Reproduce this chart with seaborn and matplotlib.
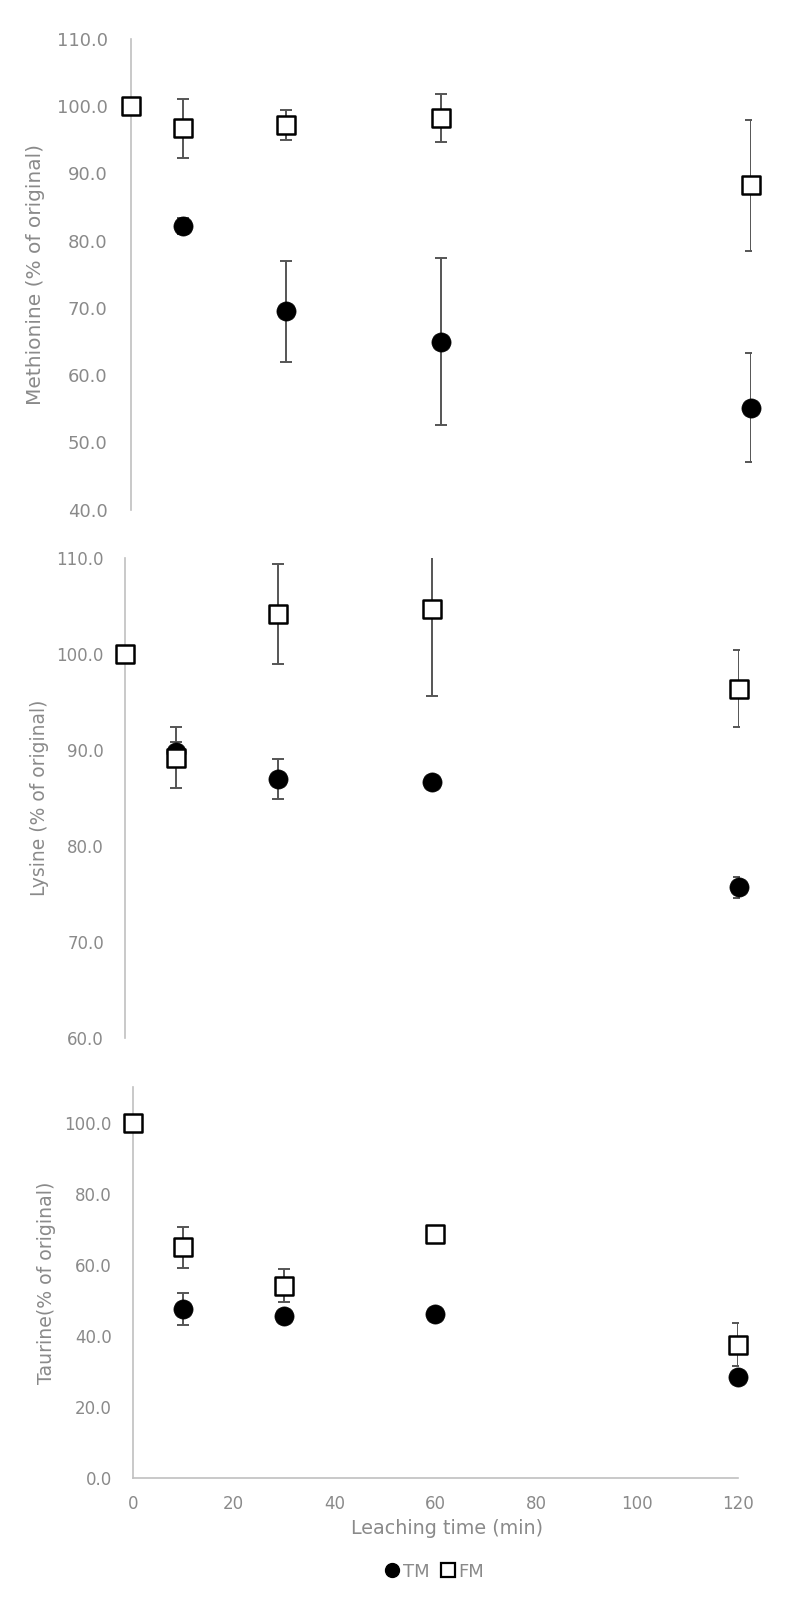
import numpy as np
import pandas as pd
import matplotlib
matplotlib.use("Agg")
import matplotlib.pyplot as plt
from matplotlib.ticker import FormatStrFormatter, MultipleLocator
from matplotlib.lines import Line2D
import seaborn as sns

sns.set_theme(style="white")
plt.rcParams['font.family'] = ['DejaVu Sans']

# ---- data ----
time_fm = [0, 10, 30, 60, 120]
time_tm = [10, 30, 60, 120]

met_fm = [100.0, 96.7, 97.2, 98.2, 88.2]
met_fm_err = [0.0, 4.4, 2.2, 3.6, 9.7]
met_tm = [82.2, 69.5, 65.0, 55.2]
met_tm_err = [1.2, 7.5, 12.4, 8.1]

lys_fm = [100.0, 89.2, 104.2, 104.7, 96.4]
lys_fm_err = [0.0, 3.2, 5.2, 9.1, 4.0]
lys_tm = [89.8, 87.0, 86.7, 75.7]
lys_tm_err = [1.0, 2.1, 0.5, 1.1]

tau_fm = [100.0, 64.9, 54.1, 68.7, 37.5]
tau_fm_err = [0.0, 5.8, 4.6, 0.5, 6.0]
tau_tm = [47.5, 45.6, 46.0, 28.5]
tau_tm_err = [4.4, 1.0, 1.0, 1.0]

ylabels = ["Methionine (% of original)", "Lysine (% of original)", "Taurine(% of original)"]
xticks = [0, 20, 40, 60, 80, 100, 120]
xlabel = "Leaching time (min)"
series_names = ["TM", "FM"]

GRAY_TXT = "#8a8a8a"
GRAY_AX = "#c0c0c0"
ERR_COL = "#555555"

fig = plt.figure(figsize=(7.9, 15.98), dpi=100)

panels = [
    dict(rect=[0.166, 0.681, 0.785, 0.2947], ylim=(40, 110), ystep=10,
         fm=met_fm, fme=met_fm_err, tm=met_tm, tme=met_tm_err,
         label=ylabels[0], lx=-0.139, tfs=13, lfs=14.5, pad=17),
    dict(rect=[0.158, 0.3504, 0.778, 0.3004], ylim=(60, 110), ystep=10,
         fm=lys_fm, fme=lys_fm_err, tm=lys_tm, tme=lys_tm_err,
         label=ylabels[1], lx=-0.124, tfs=12, lfs=13.5, pad=15),
    dict(rect=[0.168, 0.0751, 0.766, 0.2447], ylim=(0, 110), ystep=20,
         fm=tau_fm, fme=tau_fm_err, tm=tau_tm, tme=tau_tm_err,
         label=ylabels[2], lx=-0.126, tfs=12, lfs=13.6, pad=15),
]

axes = []
for i, p in enumerate(panels):
    ax = fig.add_axes(p["rect"])
    axes.append(ax)
    df_tm = pd.DataFrame({"t": time_tm, "v": p["tm"], "e": p["tme"]})
    df_fm = pd.DataFrame({"t": time_fm, "v": p["fm"], "e": p["fme"]})
    ax.errorbar(df_tm["t"], df_tm["v"], yerr=df_tm["e"], fmt="none",
                ecolor=ERR_COL, elinewidth=1.4, capsize=4.5, capthick=1.4, zorder=2)
    ax.errorbar(df_fm["t"], df_fm["v"], yerr=df_fm["e"], fmt="none",
                ecolor=ERR_COL, elinewidth=1.4, capsize=4.5, capthick=1.4, zorder=2)
    sns.scatterplot(data=df_tm, x="t", y="v", ax=ax, marker="o", s=190,
                    color="black", edgecolor="black", linewidth=0.5,
                    zorder=3, clip_on=False, legend=False)
    sns.scatterplot(data=df_fm, x="t", y="v", ax=ax, marker="s", s=150,
                    color="white", edgecolor="black", linewidth=1.8,
                    zorder=4, clip_on=False, legend=False)
    ax.set_xlim(0, 120)
    ax.set_ylim(*p["ylim"])
    ax.yaxis.set_major_locator(MultipleLocator(p["ystep"]))
    ax.yaxis.set_major_formatter(FormatStrFormatter("%.1f"))
    ax.set_xticks(xticks)
    ax.tick_params(axis="both", length=0, labelcolor=GRAY_TXT)
    ax.tick_params(axis="y", pad=p["pad"], labelsize=p["tfs"])
    for s in ["top", "right"]:
        ax.spines[s].set_visible(False)
    ax.spines["left"].set_color(GRAY_AX)
    ax.spines["left"].set_linewidth(1.2)
    if i < 2:
        ax.spines["bottom"].set_visible(False)
        ax.set_xticklabels([])
        ax.set_xlabel("")
    else:
        ax.spines["bottom"].set_color(GRAY_AX)
        ax.spines["bottom"].set_linewidth(1.2)
        ax.tick_params(axis="x", pad=12, labelsize=12)
        ax.set_xlabel(xlabel, color=GRAY_TXT, fontsize=13.8, labelpad=8)
        ax.xaxis.set_label_coords(0.519, -0.105)
    ax.set_ylabel(p["label"], color=GRAY_TXT, fontsize=p["lfs"])
    ax.yaxis.set_label_coords(p["lx"], 0.5)
    ax.grid(False)

handles = [
    Line2D([], [], marker="o", linestyle="none", markerfacecolor="black",
           markeredgecolor="black", markersize=10),
    Line2D([], [], marker="s", linestyle="none", markerfacecolor="white",
           markeredgecolor="black", markeredgewidth=1.6, markersize=9.5),
]
fig.legend(handles, series_names, loc="center", bbox_to_anchor=(0.549, 0.0165),
           ncol=2, frameon=False, fontsize=13, labelcolor=GRAY_TXT,
           handletextpad=0.1, columnspacing=0.5, handlelength=1.0)

fig.savefig("out.png", dpi=100, facecolor="white")
